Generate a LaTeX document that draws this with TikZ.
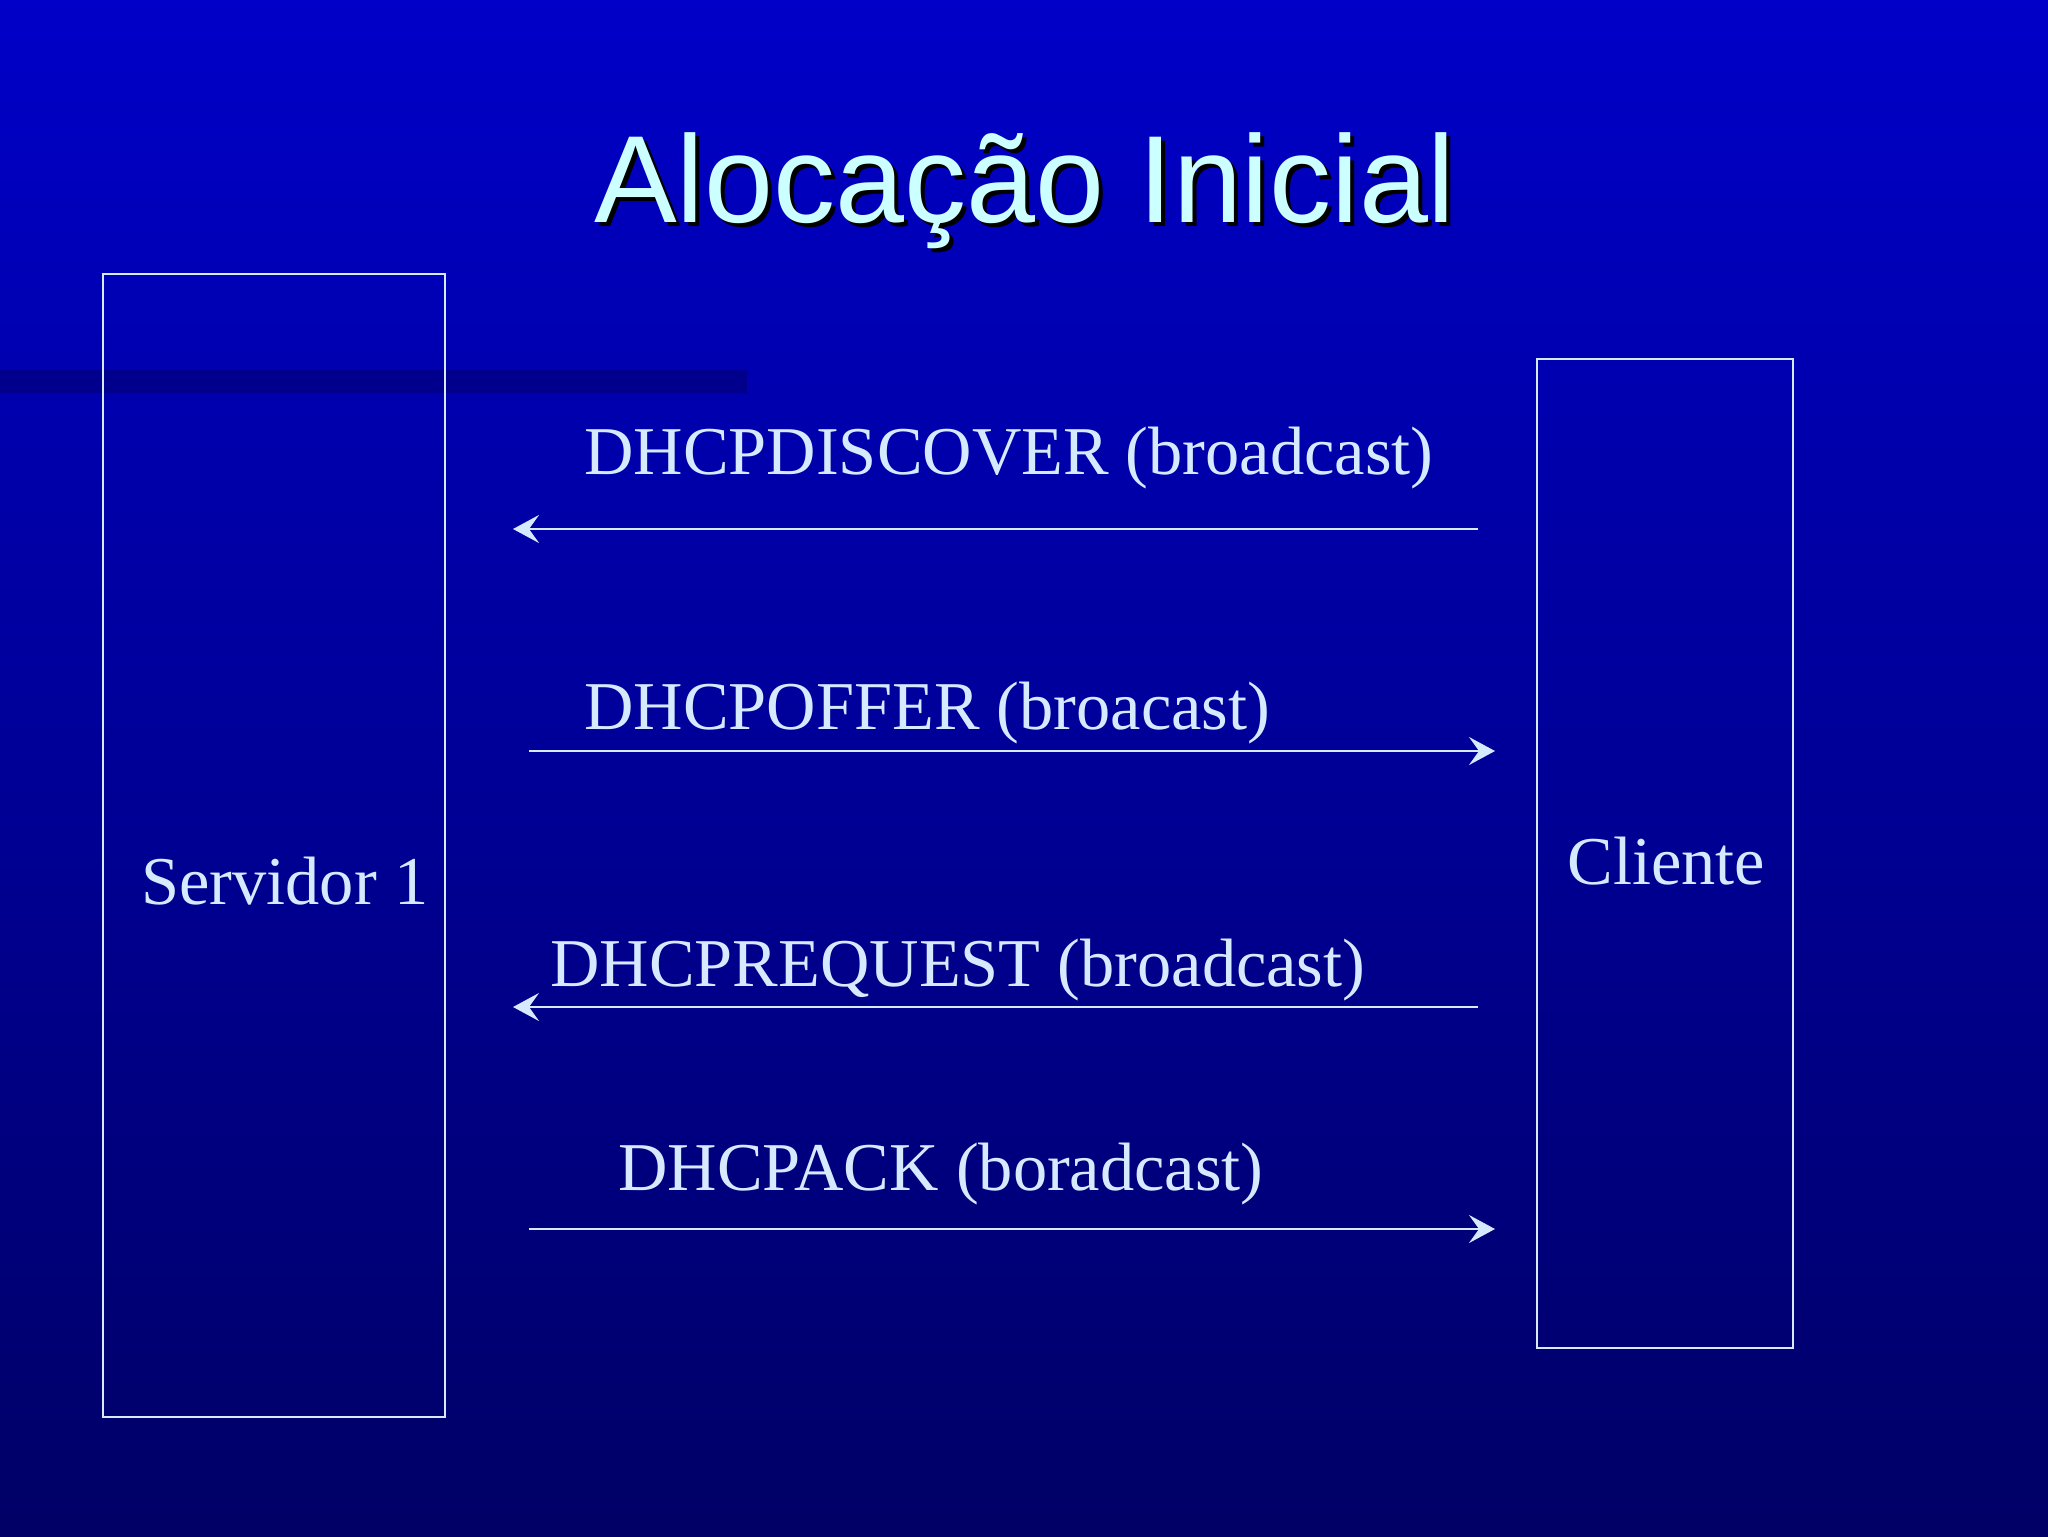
\documentclass[tikz,border=0pt]{standalone}
\usepackage{fontspec}
\setmainfont{Liberation Serif}
\newfontfamily\titlefont{Liberation Sans}
\usetikzlibrary{arrows.meta}
\definecolor{bgtop}{HTML}{0000C8}
\definecolor{bgbot}{HTML}{000066}
\definecolor{barcol}{HTML}{00008C}
\definecolor{titlecol}{HTML}{CCFFFF}
\definecolor{linecol}{HTML}{D6EAFF}
\tikzset{
  msg/.style={draw=linecol, line width=1.1pt, -{Stealth[length=13pt,width=14pt,inset=5pt]}},
  lbl/.style={anchor=base west, text=linecol, font=\fontsize{34.2}{40}\selectfont, inner sep=0pt},
  actor/.style={draw=linecol, line width=1.1pt, inner sep=0pt},
}
\begin{document}
\begin{tikzpicture}[x=0.5pt,y=-0.5pt]
\useasboundingbox (0,0) rectangle (2048,1536);
\shade[top color=bgtop, bottom color=bgbot] (0,0) rectangle (2048,1536);
\fill[barcol] (0,370) rectangle (747,393);
% boxes
\node[actor, minimum width=171pt, minimum height=571.5pt, anchor=north west] (srv) at (102,273) {};
\node[actor, minimum width=128pt, minimum height=494.5pt, anchor=north west] (cli) at (1536,358) {};
% title
\node[anchor=base, inner sep=0pt, text=black, font=\titlefont\fontsize{62}{70}\selectfont] at (1029,226) {Alocação Inicial};
\node[anchor=base, inner sep=0pt, text=titlecol, font=\titlefont\fontsize{62}{70}\selectfont] (title) at (1025,222) {Alocação Inicial};
% actor labels
\node[lbl] (srvlbl) at (141,904) {Servidor 1};
\node[lbl] (clilbl) at (1567,884) {Cliente};
% arrow ends
\coordinate (c1) at (1478,529); \coordinate (s1) at (513,529);
\coordinate (s2) at (529,751);  \coordinate (c2) at (1495,751);
\coordinate (c3) at (1478,1007); \coordinate (s3) at (513,1007);
\coordinate (s4) at (529,1229);  \coordinate (c4) at (1495,1229);
\draw[msg] (c1) -- (s1);
\draw[msg] (s2) -- (c2);
\draw[msg] (c3) -- (s3);
\draw[msg] (s4) -- (c4);
% message labels
\node[lbl] (m1) at (584,474) {DHCPDISCOVER (broadcast)};
\node[lbl] (m2) at (584,729) {DHCPOFFER (broacast)};
\node[lbl] (m3) at (550,986) {DHCPREQUEST (broadcast)};
\node[lbl] (m4) at (618,1190) {DHCPACK (boradcast)};
\end{tikzpicture}
\end{document}
